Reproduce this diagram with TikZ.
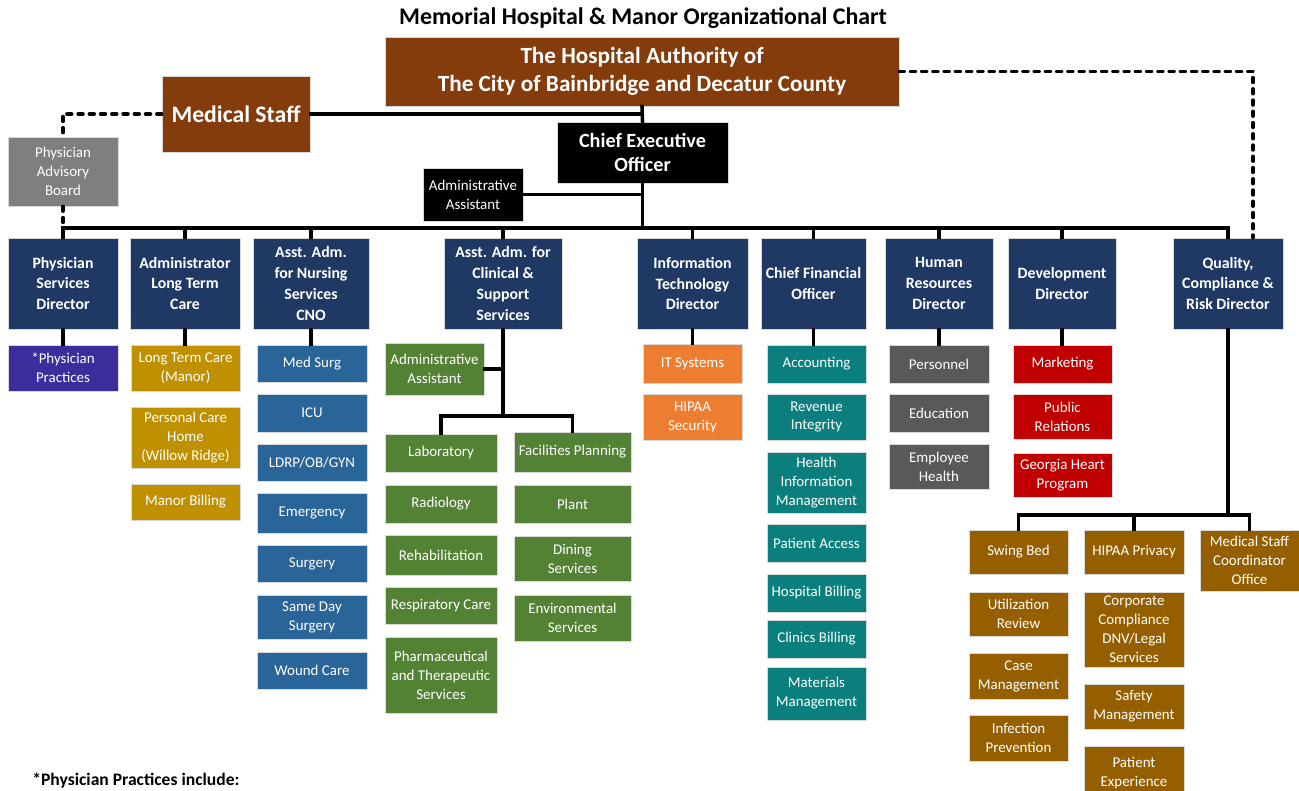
\documentclass[tikz,border=0pt]{standalone}
\usepackage{fontspec}
\setmainfont{Carlito}
\usetikzlibrary{positioning, calc}
\definecolor{brn}{HTML}{843C0C}
\definecolor{navy}{HTML}{1F3864}
\definecolor{advgray}{HTML}{7F7F7F}
\definecolor{purp}{HTML}{3A2E9C}
\definecolor{ltcgold}{HTML}{BF9000}
\definecolor{nurse}{HTML}{2A6599}
\definecolor{grn}{HTML}{548235}
\definecolor{orng}{HTML}{ED7D31}
\definecolor{fin}{HTML}{0B7F7D}
\definecolor{hrgray}{HTML}{595959}
\definecolor{devred}{HTML}{C00000}
\definecolor{qual}{HTML}{955F00}
\tikzset{
  box/.style    = {draw=black!15, line width=0.5pt, align=center, text=white, inner sep=1pt,
                   font=\fontsize{8.5}{10.8}\selectfont},
  wd/.style     = {minimum width=#1*0.02cm},
  ht/.style     = {minimum height=#1*0.02cm},
  topbox/.style = {box, fill=brn, font=\fontsize{13.2}{15.9}\selectfont\bfseries},
  ceobox/.style = {box, fill=black, font=\fontsize{11.5}{13.6}\selectfont\bfseries},
  blk/.style    = {box, fill=black},
  lvl/.style    = {box, fill=navy, ht=91, font=\fontsize{9}{11.9}\selectfont\bfseries},
  link/.style   = {line width=2pt, draw=black, line cap=rect},
  dots/.style   = {line width=2.2pt, draw=black, line cap=round, dash pattern=on 2.6pt off 3.8pt},
  ttl/.style    = {font=\fontsize{13.6}{15}\selectfont\bfseries, inner sep=0pt},
}
\begin{document}
\begin{tikzpicture}[x=0.02cm, y=-0.02cm]
\clip (0,0) rectangle (1299,791);
\fill[white] (0,0) rectangle (1299,791);

\node[ttl] (title) at (643,18) {Memorial Hospital \& Manor Organizational Chart};

% --- board, medical staff, CEO ---
\node[topbox, wd=514, ht=69] (auth) at (642,71.5) {The Hospital Authority of\\The City of Bainbridge and Decatur County};
\node[topbox, wd=148, ht=76, font=\fontsize{13.5}{16}\selectfont\bfseries] (mstaff) at (236,114) {Medical Staff};
\node[ceobox, wd=171, ht=61] (ceo) at (642.5,152.5) {Chief Executive\\Officer};
\node[blk, wd=100, ht=53] (aa) at (473,194.5) {Administrative\\Assistant};
\node[box, fill=advgray, wd=110, ht=69] (pab) at (63,171.5) {Physician\\Advisory\\Board};

% --- directors ---
\node[lvl, wd=110] (psd) at (63,283.5)   {Physician\\Services\\Director};
\node[lvl, wd=110] (ltc) at (185,283.5)  {Administrator\\Long Term\\Care};
\node[lvl, wd=116] (cno) at (311,283.5)  {Asst. Adm.\\for Nursing\\Services\\CNO};
\node[lvl, wd=118] (cls) at (503,283.5)  {Asst. Adm. for\\Clinical \&\\Support\\Services};
\node[lvl, wd=111] (itd) at (692.5,283.5) {Information\\Technology\\Director};
\node[lvl, wd=105] (cfo) at (813.5,283.5) {Chief Financial\\Officer};
\node[lvl, wd=108] (hrd) at (939,283.5)  {Human\\Resources\\Director};
\node[lvl, wd=108] (dev) at (1062,283.5) {Development\\Director};
\node[lvl, wd=110] (qcr) at (1228,283.5) {Quality,\\Compliance \&\\Risk Director};

% --- physician services / long term care ---
\node[box, fill=purp, wd=110, ht=46] (pp) at (63,368) {*Physician\\Practices};
\node[box, fill=ltcgold, wd=109, ht=46] (ltcm) at (185.5,368) {Long Term Care\\(Manor)};
\node[box, fill=ltcgold, wd=109, ht=61] (pch) at (185.5,437.5) {Personal Care\\Home\\(Willow Ridge)};
\node[box, fill=ltcgold, wd=109, ht=36] (mbill) at (185.5,502) {Manor Billing};

% --- nursing ---
\node[box, fill=nurse, wd=110, ht=37] (medsurg) at (312,363.5) {Med Surg};
\node[box, fill=nurse, wd=110, ht=38] (icu) at (312,413) {ICU};
\node[box, fill=nurse, wd=110, ht=37] (ldrp) at (312,462.5) {LDRP/OB/GYN};
\node[box, fill=nurse, wd=110, ht=40] (emer) at (312,513) {Emergency};
\node[box, fill=nurse, wd=110, ht=37] (surg) at (312,563.5) {Surgery};
\node[box, fill=nurse, wd=110, ht=44] (sds) at (312,617) {Same Day\\Surgery};
\node[box, fill=nurse, wd=110, ht=37] (wound) at (312,670.5) {Wound Care};

% --- clinical & support ---
\node[box, fill=grn, wd=99, ht=52] (aac) at (434.5,369) {Administrative\\Assistant};
\node[box, fill=grn, wd=112, ht=38] (lab) at (441,453) {Laboratory};
\node[box, fill=grn, wd=112, ht=38] (rad) at (441,504) {Radiology};
\node[box, fill=grn, wd=112, ht=40] (rehab) at (441,555) {Rehabilitation};
\node[box, fill=grn, wd=112, ht=37] (resp) at (441,605.5) {Respiratory Care};
\node[box, fill=grn, wd=112, ht=76] (pharm) at (441,675) {Pharmaceutical\\and Therapeutic\\Services};
\node[box, fill=grn, wd=117, ht=40] (fac) at (572.5,452) {Facilities Planning};
\node[box, fill=grn, wd=117, ht=38] (plant) at (572.5,504) {Plant};
\node[box, fill=grn, wd=117, ht=45] (dining) at (572.5,558.5) {Dining\\Services};
\node[box, fill=grn, wd=117, ht=46] (envs) at (572.5,618) {Environmental\\Services};

% --- IT ---
\node[box, fill=orng, wd=99, ht=39] (itsys) at (692.5,363.5) {IT Systems};
\node[box, fill=orng, wd=99, ht=46] (hsec) at (692.5,417) {HIPAA\\Security};

% --- finance ---
\node[box, fill=fin, wd=99, ht=38] (acct) at (816.5,364) {Accounting};
\node[box, fill=fin, wd=99, ht=46] (rev) at (816.5,417) {Revenue\\Integrity};
\node[box, fill=fin, wd=99, ht=61] (him) at (816.5,482.5) {Health\\Information\\Management};
\node[box, fill=fin, wd=99, ht=38] (pacc) at (816.5,543) {Patient Access};
\node[box, fill=fin, wd=99, ht=38] (hbill) at (816.5,593) {Hospital Billing};
\node[box, fill=fin, wd=99, ht=38] (cbill) at (816.5,639) {Clinics Billing};
\node[box, fill=fin, wd=99, ht=53] (mat) at (816.5,693.5) {Materials\\Management};

% --- HR ---
\node[box, fill=hrgray, wd=100, ht=38] (pers) at (939,364) {Personnel};
\node[box, fill=hrgray, wd=100, ht=38] (edu) at (939,413) {Education};
\node[box, fill=hrgray, wd=100, ht=45] (emph) at (939,466.5) {Employee\\Health};

% --- development ---
\node[box, fill=devred, wd=99, ht=38] (mkt) at (1062.5,364) {Marketing};
\node[box, fill=devred, wd=99, ht=45] (pr) at (1062.5,416.5) {Public\\Relations};
\node[box, fill=devred, wd=99, ht=44] (ghp) at (1062.5,475) {Georgia Heart\\Program};

% --- quality ---
\node[box, fill=qual, wd=99, ht=44] (swb) at (1018.5,552) {Swing Bed};
\node[box, fill=qual, wd=99, ht=44] (ur) at (1018.5,614) {Utilization\\Review};
\node[box, fill=qual, wd=99, ht=46] (casem) at (1018.5,676) {Case\\Management};
\node[box, fill=qual, wd=99, ht=46] (infp) at (1018.5,738) {Infection\\Prevention};
\node[box, fill=qual, wd=100, ht=44] (hipp) at (1134,552) {HIPAA Privacy};
\node[box, fill=qual, wd=100, ht=75] (corp) at (1134,629.5) {Corporate\\Compliance\\DNV/Legal\\Services};
\node[box, fill=qual, wd=100, ht=45] (safe) at (1134,706.5) {Safety\\Management};
\node[box, fill=qual, wd=100, ht=54] (pexp) at (1134,773) {Patient\\Experience};
\node[box, fill=qual, wd=99, ht=61] (msco) at (1249.5,560.5) {Medical Staff\\Coordinator\\Office};

\node[anchor=north west, inner sep=0pt, font=\fontsize{10}{12}\selectfont\bfseries] (note) at (32,773) {*Physician Practices include:};

% --- connectors ---
\coordinate (bus) at (0,228);
\draw[link] (auth.south) -- (ceo.north);
\draw[link] (mstaff.east) -- (mstaff.east -| auth.south);
\draw[dots] (mstaff.west) -| (pab.north);
\draw[dots] (pab.south) -- (pab.south |- bus);
\draw[dots] (auth.east) -| ($(qcr.north)+(25,0)$);
\draw[link] (psd.north |- bus) -- (qcr.north |- bus);
\draw[link] (ceo.south) -- (ceo.south |- bus);
\draw[link] (aa.east) -- (aa.east -| ceo.south);
\foreach \n in {psd,ltc,cno,cls,itd,cfo,hrd,dev,qcr}
  \draw[link] (\n.north |- bus) -- (\n.north);

\draw[link] (psd.south) -- (pp.north);
\draw[link] (ltc.south) -- (ltc.south |- ltcm.north);
\draw[link] (cno.south) -- (cno.south |- medsurg.north);
\draw[link] (itd.south) -- (itd.south |- itsys.north);
\draw[link] (cfo.south) -- (cfo.south |- acct.north);
\draw[link] (hrd.south) -- (hrd.south |- pers.north);
\draw[link] (dev.south) -- (dev.south |- mkt.north);

\coordinate (clsj) at (503,416);
\draw[link] (cls.south) -- (clsj);
\draw[link] (aac.east) -- (aac.east -| cls.south);
\draw[link] (lab.north) |- (clsj) -| (fac.north);

\coordinate (qj) at (1228,515);
\draw[link] (qcr.south) -- (qj);
\draw[link] (swb.north) |- (qj) -| (msco.north);
\draw[link] (hipp.north) -- (hipp.north |- qj);
\end{tikzpicture}
\end{document}
